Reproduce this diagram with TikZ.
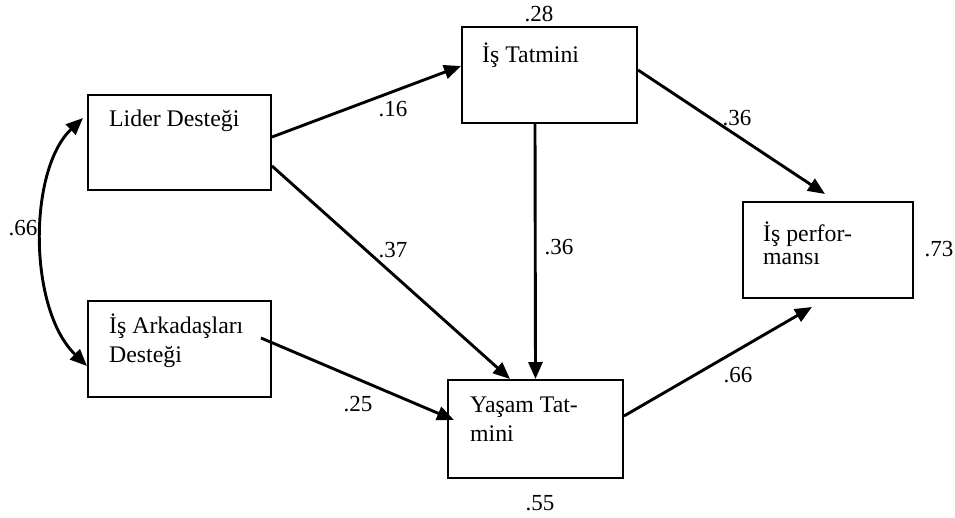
\documentclass[tikz,border=0pt]{standalone}
\usepackage{fontspec}
\setmainfont{Liberation Serif}
\usetikzlibrary{arrows.meta}
\begin{document}
\begin{tikzpicture}[x=1pt,y=-1pt,
  box/.style={draw=black,line width=2pt,inner sep=0pt},
  txt/.style={anchor=base west,inner sep=0pt,font=\fontsize{23.8}{27}\selectfont},
  lbl/.style={anchor=center,inner sep=0pt,font=\fontsize{23}{27}\selectfont},
  path/.style={line width=2.9pt,-{Triangle[length=17pt,width=14pt]}},
  corr/.style={line width=2.9pt,{Triangle[length=17pt,width=14pt]}-{Triangle[length=17pt,width=14pt]}}]
\useasboundingbox (0,0) rectangle (955,517);
% boxes
\node[box,minimum width=183pt,minimum height=95pt] (LD) at (179.5,142.5) {};
\node[box,minimum width=183pt,minimum height=96pt] (IA) at (179.5,349) {};
\node[box,minimum width=175pt,minimum height=96pt] (IT) at (549.5,75) {};
\node[box,minimum width=175pt,minimum height=98pt] (YT) at (535.5,429) {};
\node[box,minimum width=170pt,minimum height=96pt] (IP) at (828,250) {};
% box texts
\node[txt] (LDt) at (109,126) {Lider Desteği};
\node[txt] (IAt1) at (109,333) {İş Arkadaşları};
\node[txt] (IAt2) at (109,362) {Desteği};
\node[txt] (ITt) at (482,62) {İş Tatmini};
\node[txt] (YTt1) at (470,412) {Yaşam Tat-};
\node[txt] (YTt2) at (470,441) {mini};
\node[txt] (IPt1) at (763,241) {İş perfor-};
\node[txt] (IPt2) at (763,264) {mansı};
% connectors
\draw[path] ([yshift=5.5pt]LD.east) -- ([yshift=9pt]IT.west);
\draw[path] ([yshift=-23.5pt]LD.east) -- ([xshift=-25.5pt]YT.north);
\draw[path] ([xshift=-14.5pt]IT.south) -- (YT.north);
\draw[path] ([xshift=-11pt,yshift=11pt]IA.east) -- ([xshift=7pt,yshift=9pt]YT.west);
\draw[path] ([yshift=5pt]IT.east) -- ([xshift=-3pt,yshift=7pt]IP.north);
\draw[path] ([yshift=13pt]YT.east) -- ([xshift=-16pt,yshift=-8pt]IP.south);
\coordinate (c1) at (28,170);
\coordinate (c2) at (28,309);
\draw[corr] ([xshift=-4pt,yshift=24.5pt]LD.west) .. controls (c1) and (c2) .. ([yshift=-17pt]IA.west);
% coefficients
\node[lbl] (l28) at (539,14) {.28};
\node[lbl] (l16) at (393,109) {.16};
\node[lbl] (l37) at (393,250) {.37};
\node[lbl] (l36m) at (559,247) {.36};
\node[lbl] (l36u) at (737,118) {.36};
\node[lbl] (l66L) at (23,228) {.66};
\node[lbl] (l25) at (358,404) {.25};
\node[lbl] (l55) at (540,503) {.55};
\node[lbl] (l66R) at (738,375) {.66};
\node[lbl] (l73) at (939,249) {.73};
\end{tikzpicture}
\end{document}
